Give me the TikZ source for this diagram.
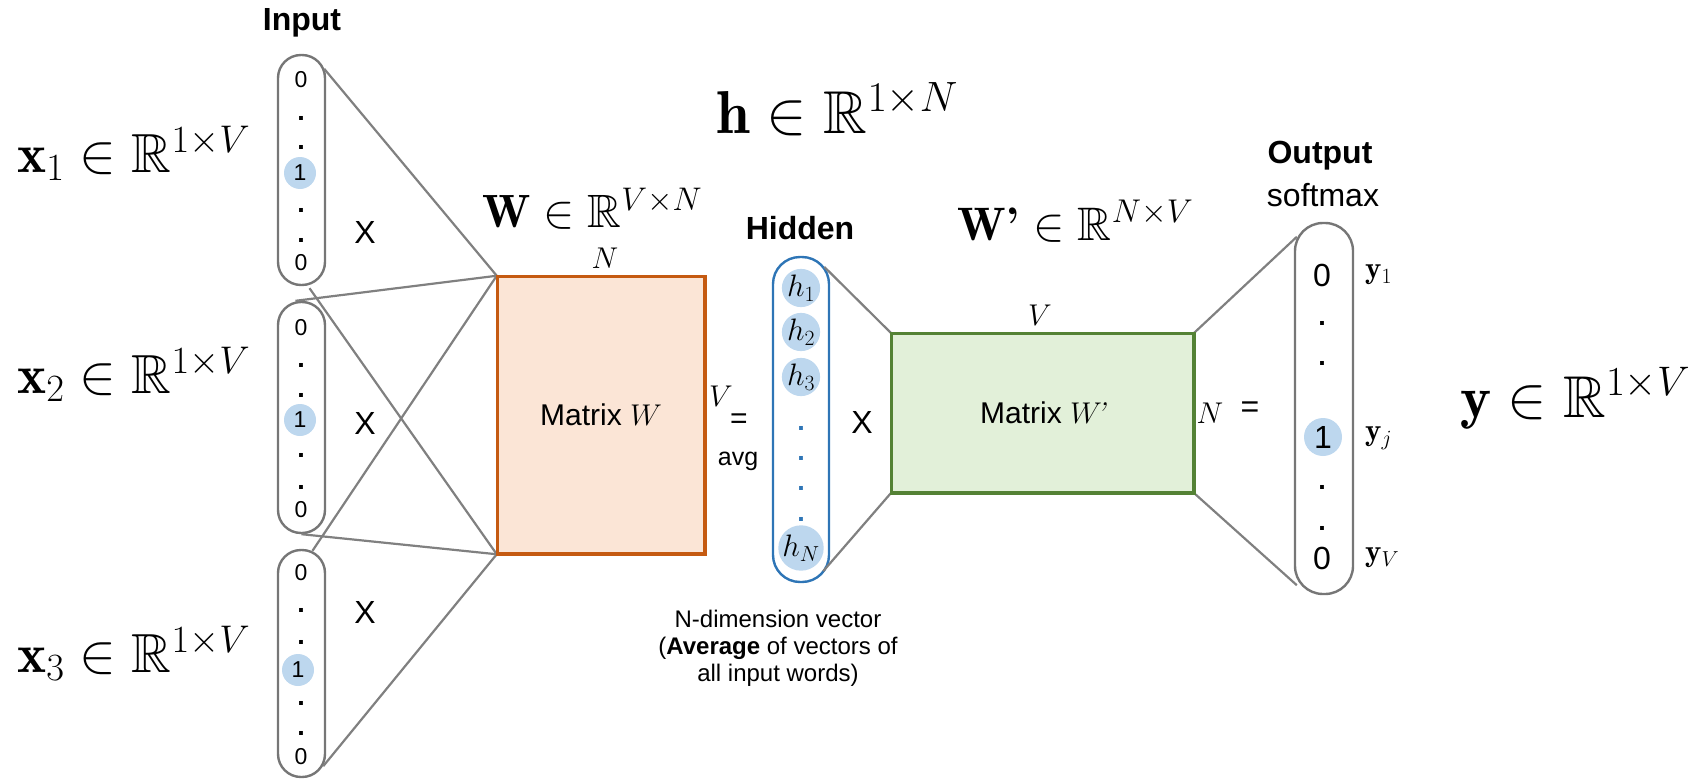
\RequirePackage{fix-cm}
\documentclass[tikz,border=0pt]{standalone}
\usepackage{amsmath,amssymb,graphicx}
\usepackage{fontspec}
\setsansfont{Liberation Sans}
\usetikzlibrary{calc}
\definecolor{vgray}{RGB}{118,118,118}
\definecolor{cgray}{RGB}{128,128,128}
\definecolor{cblue}{RGB}{189,215,238}
\definecolor{dblue}{RGB}{46,117,182}
\definecolor{wor}{RGB}{197,90,17}
\definecolor{worf}{RGB}{251,229,214}
\definecolor{wgr}{RGB}{84,130,53}
\definecolor{wgrf}{RGB}{226,240,217}
\newcommand{\fsz}[1]{\fontsize{#1}{#1}\selectfont}
\tikzset{
  vbox/.style={draw=vgray, line width=2.4pt, rounded corners=23pt, minimum width=47pt, inner sep=0pt},
  conn/.style={draw=cgray, line width=2.2pt},
  dig/.style={font=\sffamily\fsz{23}, inner sep=0pt},
  vdot/.style={font=\sffamily\bfseries\fsz{27}, inner sep=0pt},
  odig/.style={font=\sffamily\fsz{32}, inner sep=0pt},
  hot/.style={circle, fill=cblue, minimum size=32pt, inner sep=0pt},
  hhot/.style={circle, fill=cblue, minimum size=34pt, inner sep=0pt, font=\fsz{31}},
  bdot/.style={font=\sffamily\bfseries\fsz{27}, inner sep=0pt, text=dblue},
  lbl/.style={font=\sffamily\fsz{32}, inner sep=0pt},
  blbl/.style={font=\sffamily\bfseries\fsz{32}, inner sep=0pt},
  bigm/.style={font=\fsz{50}, inner sep=0pt, anchor=base west},
  dimm/.style={font=\fsz{30}, inner sep=0pt},
  ylab/.style={font=\fsz{31}, inner sep=0pt, anchor=west},
  mat/.style={line width=2.5pt, inner sep=0pt, font=\sffamily\fsz{30}},
}
\begin{document}
\begin{tikzpicture}[x=1pt,y=-1pt]
\useasboundingbox (0,0) rectangle (1700,779);
% input vectors
\node[vbox, minimum height=230pt] (v1) at (301.5,170) {};
\node[vbox, minimum height=231pt] (v2) at (301.5,417.5) {};
\node[vbox, minimum height=227pt] (v3) at (301.5,663.5) {};
% hidden and output vectors
\node[vbox, draw=dblue, minimum width=56pt, minimum height=325pt, rounded corners=27pt] (hid) at (801,419.5) {};
\node[vbox, minimum width=58pt, minimum height=371pt, rounded corners=28pt] (out) at (1324,408.5) {};
% matrices
\node[mat, draw=wor, fill=worf, minimum width=206pt, minimum height=276pt] (W) at (601,415) {Matrix $W$};
\node[mat, draw=wgr, fill=wgrf, minimum width=301pt, minimum height=158pt] (Wp) at (1042.5,413) {Matrix $W$\kern-6pt{\rmfamily\itshape '}};
% connectors
\draw[conn] ($(v1.north east)+(-2,15)$) -- (W.north west);
\draw[conn] ($(v1.south)+(8,2)$) -- (W.south west);
\draw[conn] ($(v2.north)+(-6,0)$) -- (W.north west);
\draw[conn] (v2.south) -- (W.south west);
\draw[conn] ($(v3.north)+(11,2)$) -- (W.north west);
\draw[conn] ($(v3.south east)+(-3,-12)$) -- (W.south west);
\draw[conn] ($(hid.north east)+(-6,11)$) -- (Wp.north west);
\draw[conn] ($(hid.south east)+(-7,-12)$) -- (Wp.south west);
\draw[conn] (Wp.north east) -- ($(out.north west)+(3,15)$);
\draw[conn] (Wp.south east) -- ($(out.south west)+(3,-10)$);
\draw[draw=wor, line width=2.5pt] (W.north west) rectangle (W.south east);
\draw[draw=wgr, line width=2.5pt] (Wp.north west) rectangle (Wp.south east);
% vector 1 contents
\node[dig] (a0) at (301,80) {0};
\node[vdot] (a1) at (301,118) {.};
\node[vdot] (a2) at (301,147) {.};
\node[hot, dig] (a3) at (300,173) {1};
\node[vdot] (a4) at (301,210) {.};
\node[vdot] (a5) at (301,240) {.};
\node[dig] (a6) at (301,263) {0};
% vector 2 contents
\node[dig] (b0) at (301,328) {0};
\node[vdot] (b1) at (301,365) {.};
\node[vdot] (b2) at (301,395) {.};
\node[hot, dig] (b3) at (300,420) {1};
\node[vdot] (b4) at (301,455) {.};
\node[vdot] (b5) at (301,487) {.};
\node[dig] (b6) at (301,510) {0};
% vector 3 contents
\node[dig] (c0) at (301,573) {0};
\node[vdot] (c1) at (301,610) {.};
\node[vdot] (c2) at (301,642) {.};
\node[hot, dig] (c3) at (298,670) {1};
\node[vdot] (c4) at (301,703) {.};
\node[vdot] (c5) at (301,733) {.};
\node[dig] (c6) at (301,757) {0};
% hidden contents
\node[hhot] (h1) at (801,288) {$h_1$};
\node[hhot] (h2) at (801,332) {$h_2$};
\node[hhot] (h3) at (801,377) {$h_3$};
\node[bdot] (hd1) at (801,428) {.};
\node[bdot] (hd2) at (801,458) {.};
\node[bdot] (hd3) at (801,488) {.};
\node[bdot] (hd4) at (801,519) {.};
\node[hhot] (hN) at (801,548) {$h_N$};
% output contents
\node[odig] (o0) at (1322,275) {0};
\node[vdot] (o1) at (1322,323) {.};
\node[vdot] (o2) at (1322,363) {.};
\node[hot, odig, minimum size=38pt] (o3) at (1323,437) {1};
\node[vdot] (o4) at (1322,487) {.};
\node[vdot] (o5) at (1322,528) {.};
\node[odig] (o6) at (1322,558) {0};
\node[ylab] (y1) at (1365,275) {$\mathbf{y}_1$};
\node[ylab] (yj) at (1365,438) {$\mathbf{y}_j$};
\node[ylab] (yV) at (1365,558) {$\mathbf{y}_V$};
% headings
\node[blbl] (tin) at (302,23) {Input};
\node[blbl] (thid) at (800,228) {Hidden};
\node[blbl] (tout) at (1320,156) {Output};
\node[lbl] (tsm) at (1323,195) {softmax};
% operators
\node[lbl] (x1) at (365,232) {X};
\node[lbl] (x2) at (365,423) {X};
\node[lbl] (x3) at (365,612) {X};
\node[lbl] (x4) at (862,422) {X};
\node[lbl, font=\sffamily\fsz{30}] (eq1) at (739,421) {=};
\node[lbl, font=\sffamily\fsz{25}] (avg) at (738,461) {avg};
\node[lbl] (eq2) at (1250,410) {=};
% dimension labels
\node[dimm] (dN1) at (605,258) {$N$};
\node[dimm] (dV1) at (721,396) {$V$};
\node[dimm] (dV2) at (1040,315) {$V$};
\node[dimm] (dN2) at (1210,413) {$N$};
% big math labels
\node[bigm] (lx1) at (17,172) {\resizebox{233pt}{!}{$\mathbf{x}_1 \in \mathbb{R}^{1\times V}$}};
\node[bigm] (lx2) at (17,393) {\resizebox{233pt}{!}{$\mathbf{x}_2 \in \mathbb{R}^{1\times V}$}};
\node[bigm] (lx3) at (17,672) {\resizebox{233pt}{!}{$\mathbf{x}_3 \in \mathbb{R}^{1\times V}$}};
\node[bigm] (lW) at (482,227) {\resizebox{220pt}{!}{$\mathbf{W} \in \mathbb{R}^{V\times N}$}};
\node[bigm] (lh) at (716,133) {\resizebox{242pt}{!}{$\mathbf{h} \in \mathbb{R}^{1\times N}$}};
\node[bigm] (lWp) at (957,240) {\resizebox{236pt}{!}{$\mathbf{W}\textbf{'} \in \mathbb{R}^{N\times V}$}};
\node[bigm] (ly) at (1460,417) {\resizebox{230pt}{!}{$\mathbf{y} \in \mathbb{R}^{1\times V}$}};
% note
\node[font=\sffamily\fontsize{24}{27}\selectfont, align=center, inner sep=0pt] (note) at (778,648) {N-dimension vector\\(\textbf{Average} of vectors of\\all input words)};
\end{tikzpicture}
\end{document}
